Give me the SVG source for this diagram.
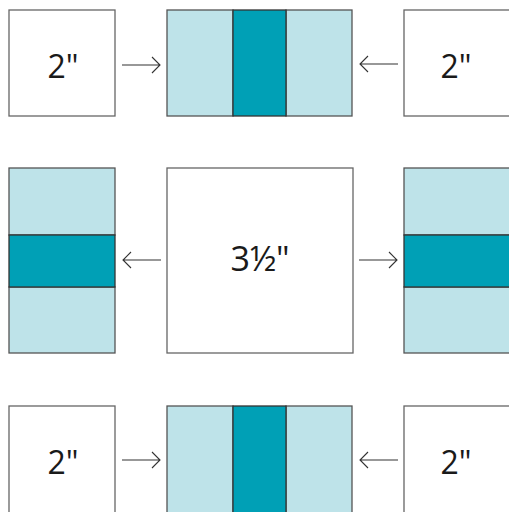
<svg xmlns="http://www.w3.org/2000/svg" width="509" height="512" viewBox="0 0 509 512">
<defs>
<style>
.sq{fill:#fff;stroke:#666;stroke-width:1.3}
.lt{fill:#bee3e9;stroke:#555;stroke-width:1.3}
.dk{fill:#00a0b6;stroke:#333;stroke-width:1.3}
.lbl{font-family:"Open Sans","Noto Sans",sans-serif;font-size:32px;fill:#1a1a1a;text-anchor:middle}
.ar{fill:none;stroke:#333;stroke-width:1.1}
</style>
</defs>
<rect width="509" height="512" fill="#fff"/>
<g id="tl"><rect class="sq" x="9" y="10" width="106" height="106"/><text class="lbl" x="63" y="78">2"</text></g>
<g id="tm"><rect class="lt" x="167" y="10" width="66" height="106"/><rect class="lt" x="286" y="10" width="66" height="106"/><rect class="dk" x="233" y="10" width="53" height="106"/></g>
<g id="tr"><rect class="sq" x="404" y="10" width="110" height="106"/><text class="lbl" x="456" y="78">2"</text></g>
<g id="ml"><rect class="lt" x="9" y="168" width="106" height="67"/><rect class="lt" x="9" y="287" width="106" height="66"/><rect class="dk" x="9" y="235" width="106" height="52"/></g>
<g id="mc"><rect class="sq" x="167" y="168" width="186" height="185"/><text class="lbl" x="260" y="271" style="font-size:34px">3½"</text></g>
<g id="mr"><rect class="lt" x="404" y="168" width="110" height="67"/><rect class="lt" x="404" y="287" width="110" height="66"/><rect class="dk" x="404" y="235" width="110" height="52"/></g>
<g id="bl"><rect class="sq" x="9" y="406" width="106" height="110"/><text class="lbl" x="63" y="474">2"</text></g>
<g id="bm"><rect class="lt" x="167" y="406" width="66" height="110"/><rect class="lt" x="286" y="406" width="66" height="110"/><rect class="dk" x="233" y="406" width="53" height="110"/></g>
<g id="br"><rect class="sq" x="404" y="406" width="110" height="110"/><text class="lbl" x="456" y="474">2"</text></g>
<g id="connectors">
<path class="ar" d="M122 65H160M152 57L160 65L152 73"/>
<path class="ar" d="M398 64H360M368 56L360 64L368 72"/>
<path class="ar" d="M161 260H123M131 252L123 260L131 268"/>
<path class="ar" d="M359 260H397M389 252L397 260L389 268"/>
<path class="ar" d="M122 460H160M152 452L160 460L152 468"/>
<path class="ar" d="M398 460H360M368 452L360 460L368 468"/>
</g>
</svg>
